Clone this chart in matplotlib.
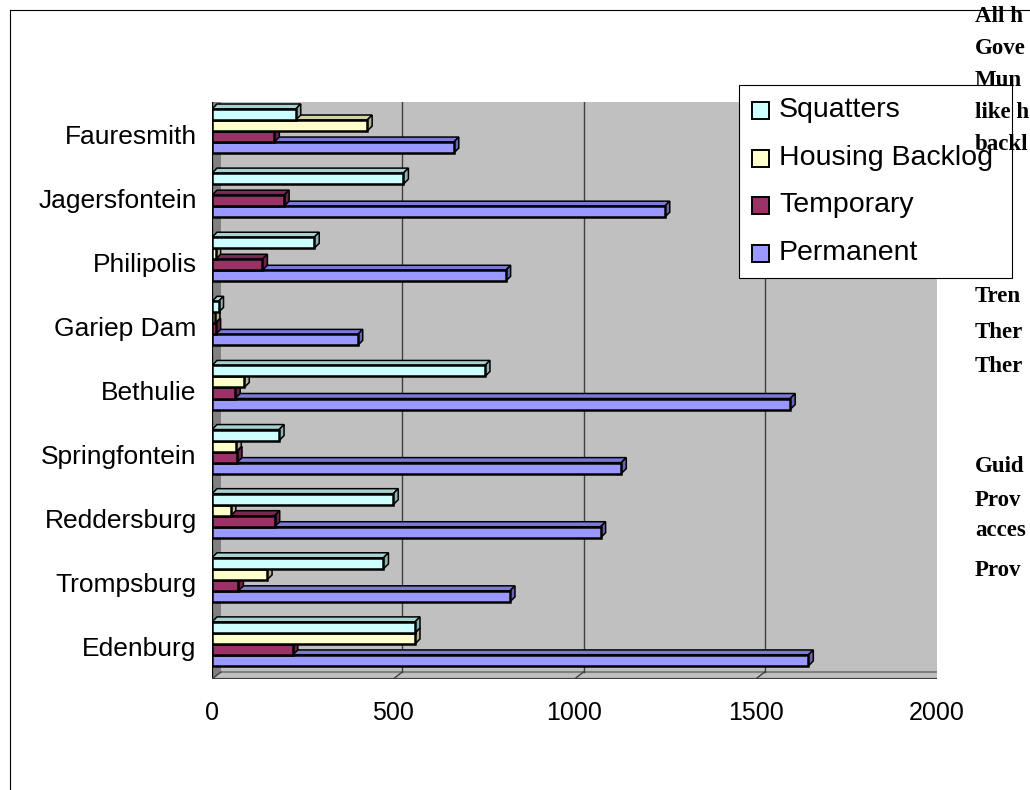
import matplotlib
matplotlib.use("Agg")
import matplotlib.pyplot as plt
from matplotlib.patches import Polygon, Rectangle
from matplotlib.lines import Line2D

# ---- data -------------------------------------------------------------
towns = ["Fauresmith", "Jagersfontein", "Philipolis", "Gariep Dam", "Bethulie",
         "Springfontein", "Reddersburg", "Trompsburg", "Edenburg"]
squatters = [231, 528, 282, 18, 753, 185, 500, 473, 560]
housing_backlog = [428, 0, 10, 8, 89, 67, 52, 152, 560]
temporary = [172, 199, 139, 10, 64, 69, 173, 73, 223]
permanent = [667, 1249, 810, 402, 1595, 1129, 1072, 822, 1645]
series_names = ["Squatters", "Housing Backlog", "Temporary", "Permanent"]
x_ticks = [0, 500, 1000, 1500, 2000]

# fragments of the page text that runs along the right edge
side_text_top = ["All h", "Gove", "Mun", "like h", "backl"]
side_text_low = ["Tren", "Ther", "Ther", "Guid", "Prov", "acces", "Prov"]

# ---- styling ----------------------------------------------------------
W, H, DPI = 1030, 790, 100
front = ["#ccffff", "#ffffcc", "#993366", "#9999ff"]
top_face = ["#a6d2d2", "#d2d2a6", "#7a2952", "#7b7bd6"]
side_face = ["#8fb3b3", "#b3b38f", "#6b2447", "#6666b3"]
DX, DY = 9, 7        # wall depth in pixels
BDX, BDY = 5, 5      # bar depth in pixels
BH = 11 / 64         # bar thickness in category units
SHIFT = 0.047

fig = plt.figure(figsize=(W / DPI, H / DPI), dpi=DPI)
fig.patch.set_facecolor("white")


def fpx(x, y):
    """pixel position (from top-left) to display coordinates"""
    return (x, H - y)


# outer chart border
fig.add_artist(Line2D([10, 10], [H - 10, -5], transform=None, color="black", lw=0.8))
fig.add_artist(Line2D([10, W + 5], [H - 10, H - 10], transform=None, color="black", lw=0.8))

ax = fig.add_axes([212 / W, 1 - 679 / H, (937 - 212) / W, (679 - 102) / H])
ax.set_xlim(0, 2000)
n = len(towns)
ax.set_ylim(-0.5, n - 0.5)
ax.patch.set_visible(False)
for s in ax.spines.values():
    s.set_visible(False)

centers = [n - 1 - i for i in range(n)]
ax.set_yticks(centers)
ax.set_yticklabels(towns, fontsize=19, family="Liberation Sans")
ax.set_xticks(x_ticks)
ax.set_xticklabels([str(v) for v in x_ticks], fontsize=18, family="Liberation Sans")
ax.tick_params(axis="y", length=0, pad=11)
ax.tick_params(axis="x", length=0, pad=16)

fig.canvas.draw()
(x0, y0), (x1, y1) = ax.transAxes.transform([(0, 0), (1, 1)])
T = ax.transData

# walls
ax.add_artist(Polygon([(x0 + DX, y0 + DY), (x1 + DX, y0 + DY), (x1 + DX, y1 + DY), (x0 + DX, y1 + DY)],
                      closed=True, transform=None, fc="#c0c0c0", ec="none", zorder=0.1))
ax.add_artist(Polygon([(x0, y0), (x0 + DX, y0 + DY), (x0 + DX, y1 + DY), (x0, y1)],
                      closed=True, transform=None, fc="#808080", ec="none", zorder=0.2))
ax.add_artist(Polygon([(x0, y0), (x1, y0), (x1 + DX, y0 + DY), (x0 + DX, y0 + DY)],
                      closed=True, transform=None, fc="#c0c0c0", ec="none", zorder=0.2))
# wall outlines
for seg in [[(x0 + DX, y1 + DY), (x1 + DX, y1 + DY)],
            [(x1 + DX, y1 + DY), (x1 + DX, y0 + DY)],
            [(x0 + DX, y0 + DY), (x1 + DX, y0 + DY)],
            [(x1, y0), (x1 + DX, y0 + DY)],
            [(x0, y1), (x0 + DX, y1 + DY)]]:
    ax.add_artist(Line2D([p[0] for p in seg], [p[1] for p in seg], transform=None,
                         color="#808080", lw=1.5, zorder=0.3))
# gridlines on the back wall
for v in x_ticks[1:-1]:
    xd = T.transform((v, 0))[0] + DX
    ax.add_artist(Line2D([xd, xd], [y0 + DY, y1 + DY], transform=None,
                         color="#404040", lw=1.0, zorder=0.4))

# axes lines and ticks
ax.add_artist(Line2D([x0, x1], [y0, y0], transform=None, color="#404040", lw=1.6, zorder=1))
ax.add_artist(Line2D([x0, x0], [y0, y1], transform=None, color="black", lw=1.6, zorder=1))
for b in [c + 0.5 for c in range(-1, n)]:
    yd = T.transform((0, b))[1]
    ax.add_artist(Line2D([x0 - 11, x0], [yd, yd], transform=None, color="black", lw=1.0, zorder=1))
for v in x_ticks:
    xd = T.transform((v, 0))[0]
    ax.add_artist(Line2D([xd, xd + DX], [y0, y0 + DY], transform=None, color="#404040", lw=1.0, zorder=1))
for v in (x_ticks[0], x_ticks[-1]):
    xd = T.transform((v, 0))[0]
    ax.add_artist(Line2D([xd, xd], [y0, y0 - 10], transform=None, color="#404040", lw=1.0, zorder=1))

# ---- 3-D bars ---------------------------------------------------------
data = [squatters, housing_backlog, temporary, permanent]
for k in range(3, -1, -1):
    vals = data[k]
    for i, v in enumerate(vals):
        if v <= 0:
            continue
        c = centers[i]
        top = c + 2 * BH + SHIFT - k * BH
        bot = top - BH
        z = 2 + (3 - k)
        (xl, yb), (xr, yt) = T.transform([(0, bot), (v, top)])
        ax.add_artist(Polygon([(xl, yt), (xr, yt), (xr + BDX, yt + BDY), (xl + BDX, yt + BDY)],
                              closed=True, transform=None, fc=top_face[k], ec="black",
                              lw=1.1, zorder=z))
        ax.add_artist(Polygon([(xr, yb), (xr + BDX, yb + BDY), (xr + BDX, yt + BDY), (xr, yt)],
                              closed=True, transform=None, fc=side_face[k], ec="black",
                              lw=1.1, zorder=z + 0.1))
        ax.barh(bot + BH / 2, v, height=BH, left=0, color=front[k], edgecolor="black",
                linewidth=1.8, zorder=z + 0.2)

# ---- legend -----------------------------------------------------------
lx0, ly0, lx1, ly1 = 739, 85, 1012, 278
fig.add_artist(Rectangle(fpx(lx0, ly1), lx1 - lx0, ly1 - ly0, transform=None,
                         fc="white", ec="black", lw=0.8, zorder=20))
entry_y = [110, 158, 205, 253]
for k, name in enumerate(series_names):
    yy = entry_y[k]
    fig.add_artist(Rectangle(fpx(752, yy + 9), 17, 17, transform=None,
                             fc=front[k], ec="black", lw=1.4, zorder=21))
    fig.text(779 / W, 1 - yy / H, name, fontsize=20.5, family="Liberation Sans",
             va="center", ha="left", zorder=22)

# ---- overlapping page text --------------------------------------------
top_y = [17, 49, 81, 113, 145]
for t, yy in zip(side_text_top, top_y):
    fig.text(975 / W, 1 - yy / H, t, fontsize=16.5, family="Liberation Serif",
             weight="bold", va="center", ha="left", zorder=30)
low_y = [296, 332, 367, 466, 500, 531, 570]
for t, yy in zip(side_text_low, low_y):
    fig.text(975 / W, 1 - yy / H, t, fontsize=16.5, family="Liberation Serif",
             weight="bold", va="center", ha="left", zorder=30)

fig.savefig("out.png", dpi=DPI)
